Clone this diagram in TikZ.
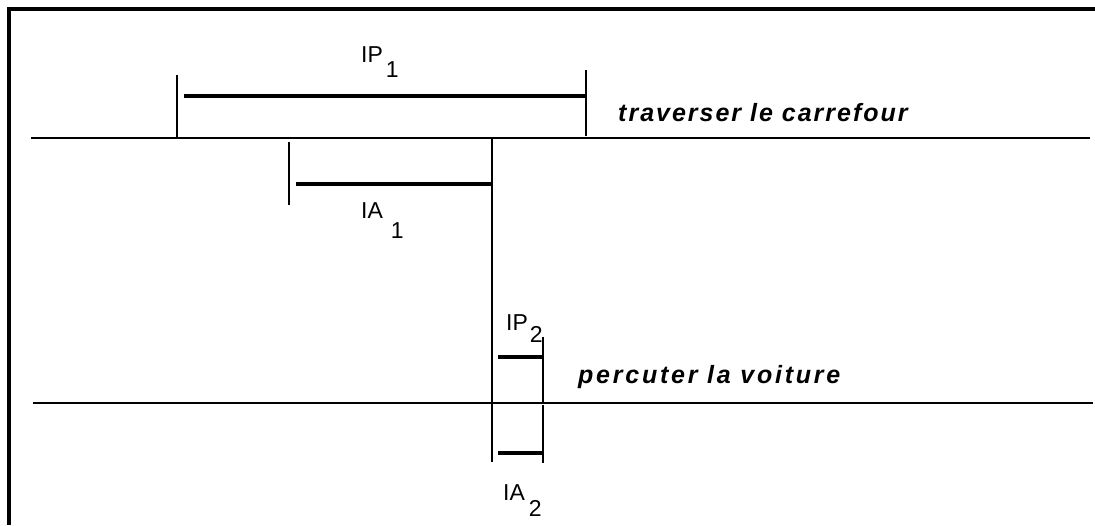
\documentclass[tikz,border=0pt]{standalone}
\usepackage{fontspec}
\setmainfont{Liberation Sans}
\usepackage{tikz}

\begin{document}
\begin{tikzpicture}[x=1pt,y=-1pt,
		timeline/.style={line width=2pt},
		tick/.style={line width=1.5pt},
		bar/.style={line width=4.5pt},
		lbl/.style={inner sep=0pt,anchor=base west,font=\fontsize{23}{23}\selectfont},
		event/.style={inner sep=0pt,anchor=base west,
			font=\fontsize{25}{25}\selectfont\bfseries\itshape\addfontfeature{LetterSpace=8}}]
		\useasboundingbox (0,0) rectangle (1095,525);
		\draw[line width=4pt] (9,525) -- (9,9) -- (1095,9);

		% the two time lines
		\coordinate (T1s) at (31,138);
		\coordinate (T1e) at (1090,138);
		\coordinate (T2s) at (33,403);
		\coordinate (T2e) at (1093,403);
		\draw[timeline] (T1s) -- (T1e);
		\draw[timeline] (T2s) -- (T2e);
		\node[event] (trav) at (618,121) {traverser le carrefour};
		\node[event] (perc) at (578,383) {\addfontfeature{LetterSpace=11}percuter la voiture};

		% IP1
		\coordinate (A) at (177,75);
		\coordinate (B) at (177,138);
		\coordinate (C) at (586,70);
		\coordinate (D) at (586,136);
		\draw[tick] (A) -- (B);
		\draw[tick] (C) -- (D);
		\draw[bar] (184,96) coordinate (IPa) -- (586,96) coordinate (IPb);
		\node[lbl] (ip1) at (361,62) {IP\hspace{3pt}\raisebox{-15pt}{1}};

		% IA1
		\coordinate (A) at (289,142);
		\coordinate (B) at (289,205);
		\coordinate (C) at (492,138);
		\coordinate (D) at (492,462);
		\draw[tick] (A) -- (B);
		\draw[tick] (C) -- (D);
		\draw[bar] (296,184) coordinate (IAa) -- (492,184) coordinate (IAb);
		\node[lbl] (ia1) at (361,218) {IA\hspace{8pt}\raisebox{-20pt}{1}};

		% IP2 and IA2
		\coordinate (A) at (543,337);
		\coordinate (B) at (543,403);
		\coordinate (C) at (543,405);
		\coordinate (D) at (543,463);
		\draw[tick] (A) -- (B);
		\draw[tick] (C) -- (D);
		\draw[bar] (498,357) coordinate (IPc) -- (543,357) coordinate (IPd);
		\draw[bar] (498,453) coordinate (IAc) -- (543,453) coordinate (IAd);
		\node[lbl] (ip2) at (506,330) {IP\hspace{2pt}\raisebox{-12pt}{2}};
		\node[lbl] (ia2) at (503,500) {IA\hspace{4pt}\raisebox{-16pt}{2}};
\end{tikzpicture}
\end{document}
